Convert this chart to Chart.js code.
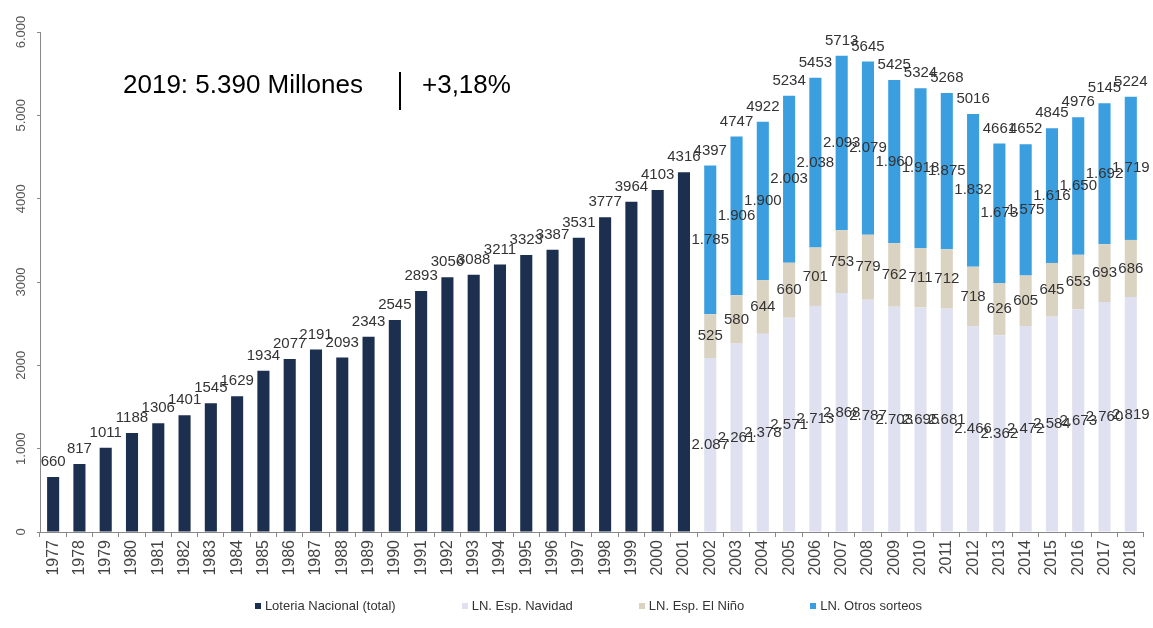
<!DOCTYPE html>
<html>
<head>
<meta charset="utf-8">
<script src="https://cdn.jsdelivr.net/npm/chart.js@4.4.1/dist/chart.umd.min.js"></script>
<style>
  html, body { margin: 0; padding: 0; background: #fff; }
  #wrap { position: relative; width: 1153px; height: 628px; }
  canvas { display: block; }
  .headline { position: absolute; top: 71px; font: 26px "Liberation Sans", Arial, sans-serif; line-height: 26px; color: #000; white-space: nowrap; }
  .sep { position: absolute; left: 399px; top: 72px; width: 2px; height: 38px; background: #000; }
  #legend { position: absolute; left: 24px; right: 0; top: 597px; display: flex; justify-content: center; gap: 66px;
            font: 13px "Liberation Sans", Arial, sans-serif; color: #333; line-height: 18px; }
  #legend span.item { display: flex; align-items: center; white-space: nowrap; }
  #legend i { display: inline-block; width: 6px; height: 6px; margin-right: 4px; }
</style>
</head>
<body>
<div id="wrap">
  <canvas id="chart" width="1153" height="628"></canvas>
  <div class="headline" style="left:123px">2019: 5.390 Millones</div>
  <div class="sep"></div>
  <div class="headline" style="left:422px">+3,18%</div>
  <div id="legend"></div>
</div>
<script>
// Recaudación Lotería Nacional 1977-2018 (millones)
const years = ['1977', '1978', '1979', '1980', '1981', '1982', '1983', '1984', '1985', '1986', '1987',
  '1988', '1989', '1990', '1991', '1992', '1993', '1994', '1995', '1996', '1997', '1998', '1999',
  '2000', '2001', '2002', '2003', '2004', '2005', '2006', '2007', '2008', '2009', '2010', '2011',
  '2012', '2013', '2014', '2015', '2016', '2017', '2018'];

// 1977-2001: solo el total
const loteriaTotal = [660, 817, 1011, 1188, 1306, 1401, 1545, 1629, 1934, 2077, 2191, 2093, 2343,
  2545, 2893, 3056, 3088, 3211, 3323, 3387, 3531, 3777, 3964, 4103, 4316];

// 2002-2018: desglose
const navidad = [2087, 2261, 2378, 2571, 2713, 2868, 2787, 2703, 2695, 2681, 2466, 2362, 2472, 2584, 2673, 2760, 2819];
const nino = [525, 580, 644, 660, 701, 753, 779, 762, 711, 712, 718, 626, 605, 645, 653, 693, 686];
const otros = [1785, 1906, 1900, 2003, 2038, 2093, 2079, 1960, 1918, 1875, 1832, 1673, 1575, 1616, 1650, 1692, 1719];
const totales2002 = [4397, 4747, 4922, 5234, 5453, 5713, 5645, 5425, 5324, 5268, 5016, 4661, 4652, 4845, 4976, 5145, 5224];

const yTickLabels = ['0', '1.000', '2000', '3000', '4000', '5.000', '6.000'];

const COLORS = {
  total: '#1d2f4e',
  navidad: '#dfe0f0',
  nino: '#dbd3c1',
  otros: '#3a9edf'
};

const nSplit = loteriaTotal.length;
const pad = (arr, before, after) => Array(before).fill(null).concat(arr, Array(after).fill(null));
const totalLabels = loteriaTotal.concat(totales2002);
const withDots = (v) => String(v).replace(/\B(?=(\d{3})+(?!\d))/g, '.');

const FONT = '"Liberation Sans", Arial, sans-serif';

const valueLabels = {
  id: 'valueLabels',
  afterDatasetsDraw(chart) {
    const { ctx, scales: { x, y } } = chart;
    ctx.save();
    ctx.font = `15px ${FONT}`;
    ctx.fillStyle = '#333';
    ctx.textAlign = 'center';
    ctx.textBaseline = 'middle';
    years.forEach((yr, i) => {
      const cx = x.getPixelForValue(i);
      const t = totalLabels[i];
      ctx.fillText(String(t), cx, y.getPixelForValue(t) - 15);
      const j = i - nSplit;
      if (j < 0) return;
      let base = 0;
      [[navidad[j], true], [nino[j], false], [otros[j], true]].forEach(([v, dotted]) => {
        ctx.fillText(dotted ? withDots(v) : String(v), cx, y.getPixelForValue(base + v / 2));
        base += v;
      });
    });
    ctx.restore();
  }
};

// etiquetas del eje Y giradas
const yTickText = {
  id: 'yTickText',
  afterDraw(chart) {
    const { ctx, scales: { y } } = chart;
    ctx.save();
    ctx.font = `13px ${FONT}`;
    ctx.fillStyle = '#555';
    ctx.textAlign = 'center';
    ctx.textBaseline = 'middle';
    y.ticks.forEach((tick) => {
      const py = y.getPixelForValue(tick.value);
      ctx.save();
      ctx.translate(21, py);
      ctx.rotate(-Math.PI / 2);
      ctx.fillText(yTickLabels[Math.round(tick.value / 1000)], 0, 0);
      ctx.restore();
    });
    ctx.restore();
  }
};

const chart = new Chart(document.getElementById('chart'), {
  type: 'bar',
  data: {
    labels: years,
    datasets: [
      { label: 'Loteria Nacional (total)', data: pad(loteriaTotal, 0, navidad.length), backgroundColor: COLORS.total },
      { label: 'LN. Esp. Navidad', data: pad(navidad, nSplit, 0), backgroundColor: COLORS.navidad },
      { label: 'LN. Esp. El Niño', data: pad(nino, nSplit, 0), backgroundColor: COLORS.nino },
      { label: 'LN. Otros sorteos', data: pad(otros, nSplit, 0), backgroundColor: COLORS.otros }
    ].map((ds) => ({ ...ds, stack: 'a', barPercentage: 0.46, categoryPercentage: 1, borderWidth: 0 }))
  },
  options: {
    responsive: false,
    animation: false,
    layout: { padding: { top: 32, bottom: 46, left: 0, right: 0 } },
    plugins: {
      legend: { display: false },
      tooltip: { enabled: false }
    },
    scales: {
      x: {
        stacked: true,
        grid: { drawOnChartArea: false, tickLength: 5, color: '#888' },
        border: { color: '#888' },
        ticks: { autoSkip: false, minRotation: 90, maxRotation: 90, padding: 3, color: '#444', font: { size: 16, family: FONT } },
        afterFit: (s) => { s.height = 50; }
      },
      y: {
        stacked: true,
        min: 0,
        max: 6000,
        ticks: { stepSize: 1000, display: false },
        grid: { drawOnChartArea: false, tickLength: 3, color: '#888' },
        border: { color: '#888' },
        afterFit: (s) => { s.width = 40; }
      }
    }
  },
  plugins: [valueLabels, yTickText]
});

// leyenda HTML
const legendEl = document.getElementById('legend');
chart.data.datasets.forEach((ds) => {
  const item = document.createElement('span');
  item.className = 'item';
  const box = document.createElement('i');
  box.style.background = ds.backgroundColor;
  item.appendChild(box);
  item.appendChild(document.createTextNode(ds.label));
  legendEl.appendChild(item);
});
</script>
</body>
</html>
